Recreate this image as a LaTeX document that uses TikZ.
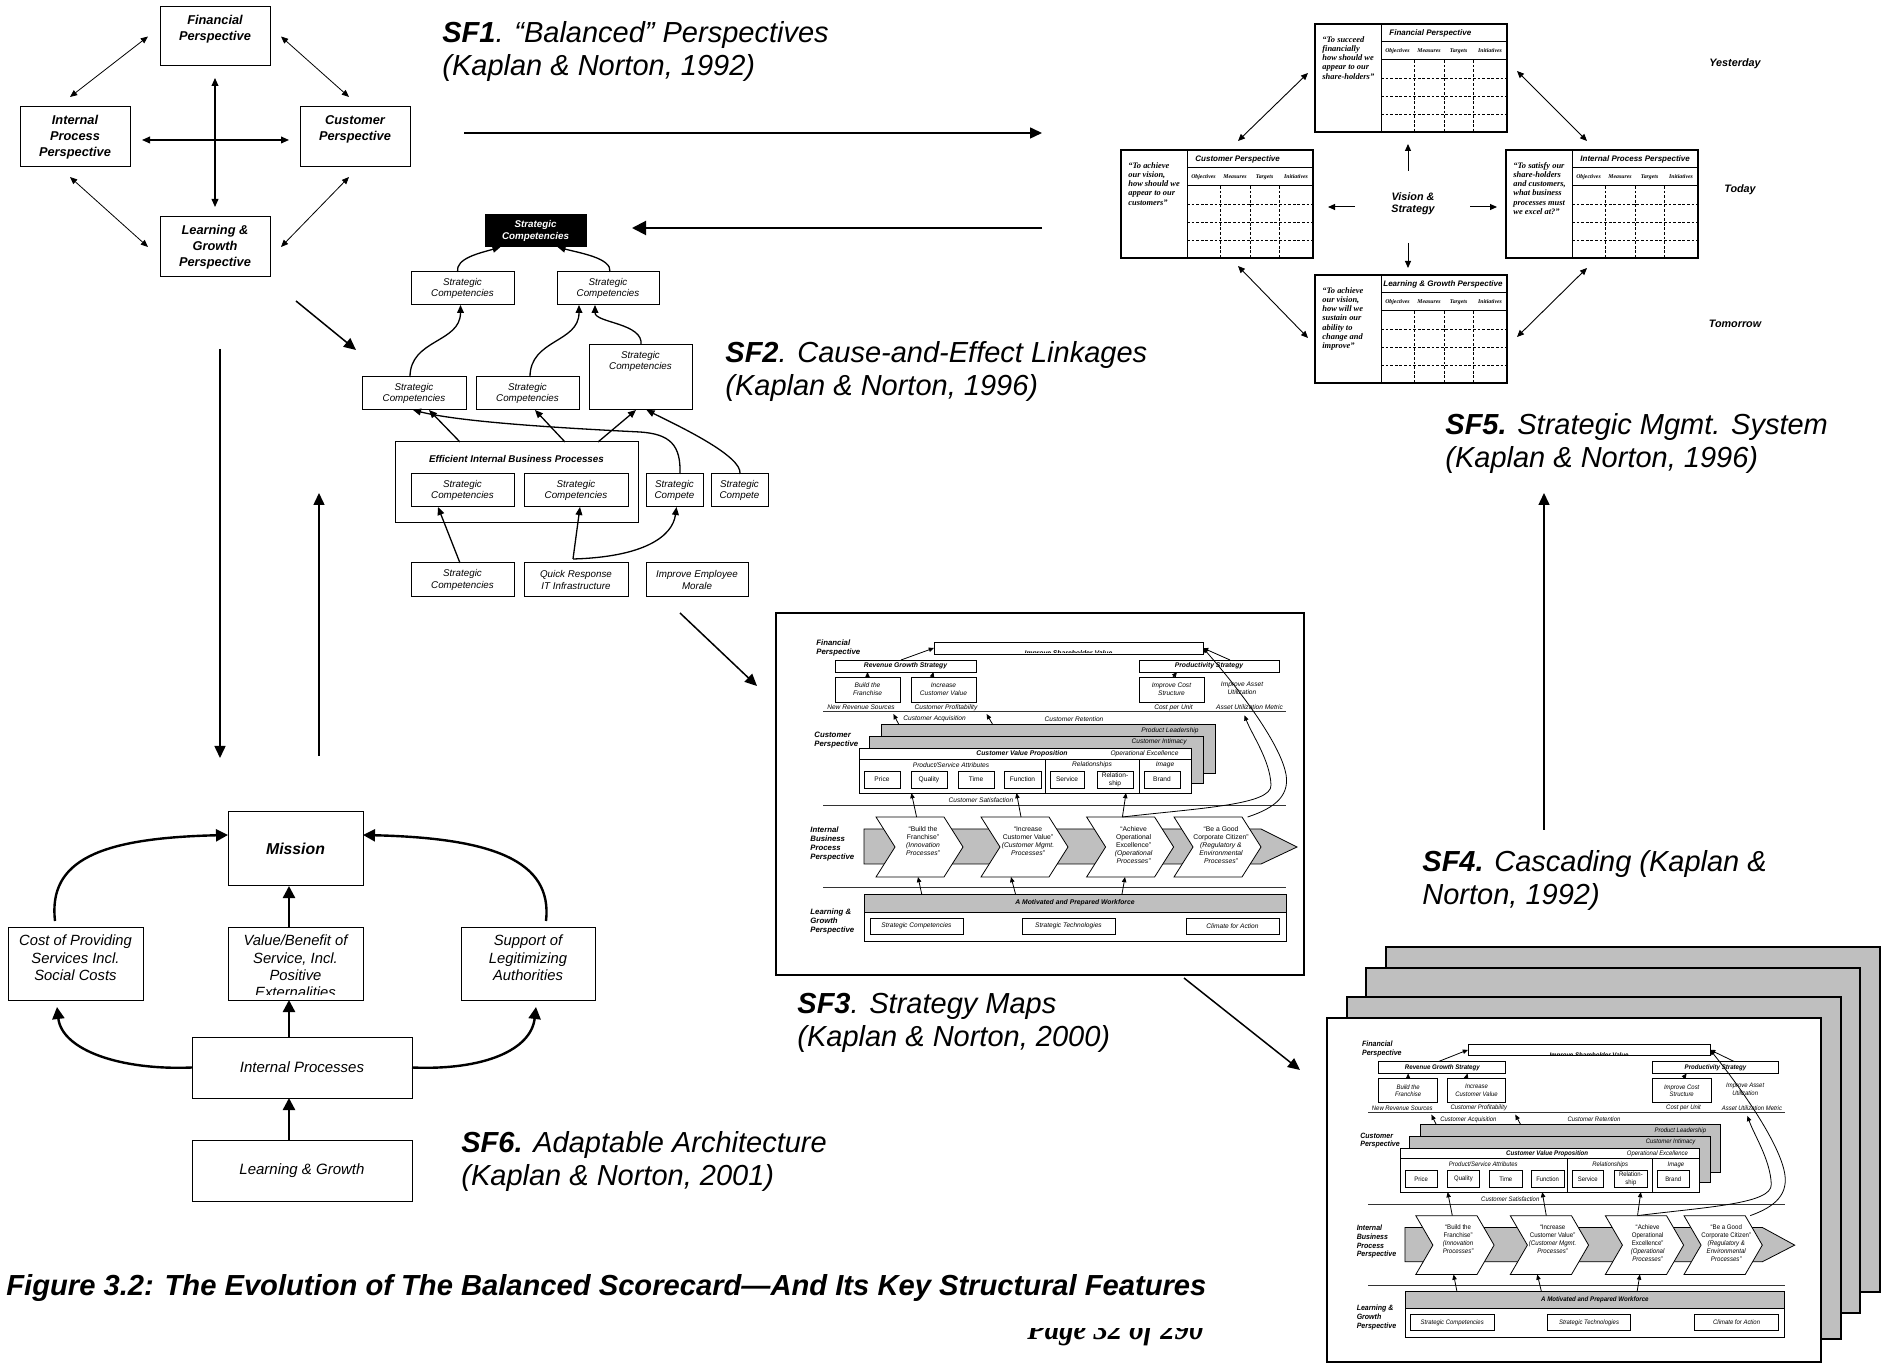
\documentclass[tikz,border=0pt]{standalone}
\usepackage{fontspec}
\usepackage{graphicx}
\setmainfont{Liberation Sans}
\newfontfamily\tms{Liberation Serif}
\usetikzlibrary{arrows.meta,calc}
\newcommand\fs[2]{\fontsize{#1}{#2}\selectfont}
\definecolor{gr}{gray}{0.75}
\newcommand{\mybox}[7][]{\node[bx,#1,minimum width={(#4-#2)*0.5pt},minimum height={(#5-#3)*0.5pt}] (#6) at ({(#2+#4)/2},{(#3+#5)/2}) {#7};}
\newcommand{\chev}[3]{%
\draw[chevs] (#1,817) -- ({#1+68},817) -- ({#1+87},847) -- ({#1+68},877) -- (#1,877) -- ({#1+19},847) -- cycle;
\node[chevt] (#2) at ({#1+47},826) {#3};}
\newcommand{\bsc}[6]{%
\node[draw,line width=0.7pt,fill=white,inner sep=0pt,outer sep=0pt,minimum width=96pt,minimum height=54pt] (#3) at ({#1+96},{#2+54}) {};
\draw[line width=0.5pt] ({#1+66},{#2}) -- ({#1+66},{#2+108}) ({#1+66},{#2+18}) -- ({#1+192},{#2+18}) ({#1+66},{#2+36}) -- ({#1+192},{#2+36});
\draw[dsh] ({#1+99},{#2+36}) -- ({#1+99},{#2+108}) ({#1+129},{#2+36}) -- ({#1+129},{#2+108}) ({#1+158},{#2+36}) -- ({#1+158},{#2+108}) ({#1+66},{#2+54}) -- ({#1+192},{#2+54}) ({#1+66},{#2+72}) -- ({#1+192},{#2+72}) ({#1+66},{#2+90}) -- ({#1+192},{#2+90});
\node[tt,anchor=west] (#3t) at ({#1+66+#5},{#2+9}) {#4};
\node[th] (#3h1) at ({#1+82.5},{#2+27}) {Objectives};
\node[th] (#3h2) at ({#1+114},{#2+27}) {Measures};
\node[th] (#3h3) at ({#1+143.5},{#2+27}) {Targets};
\node[th] (#3h4) at ({#1+175},{#2+27}) {Initiatives};
\node[tq,anchor=north west] (#3q) at ({#1+7},{#2+12}) {#6};}
\newcommand{\stratmap}[1]{%
\node[slbl,anchor=north west] (#1lf) at (816,639) {Financial\\Perspective};
\mybox[sb]{934}{642}{1203}{654}{#1isv}{}
\begin{scope}
\clip (934,642) rectangle (1203,653);
\node[sbf,anchor=base] (#1isvt) at (1068.5,656) {Improve Shareholder Value};
\end{scope}
\mybox[sb,sbf]{835}{660}{976}{672}{#1rgs}{Revenue Growth Strategy}
\mybox[sb,sbf]{1139}{660}{1279}{672}{#1ps}{Productivity Strategy}
\mybox[sb]{835}{677}{900}{702}{#1btf}{Build the\\Franchise}
\mybox[sb]{911}{677}{976}{702}{#1icv}{Increase\\Customer Value}
\mybox[sb]{1139}{677}{1204}{702}{#1ics}{Improve Cost\\Structure}
\node[st] (#1iau) at (1242,688) {Improve Asset\\Utilization};
\node[st] (#1nrs) at (861,707.5) {New Revenue Sources};
\node[st] (#1cpf) at (946,707.5) {Customer Profitability};
\node[st] (#1cpu) at (1173.5,707.5) {Cost per Unit};
\node[st] (#1aum) at (1249.5,707.5) {Asset Utilization Metric};
\draw[sln] (823,712) -- (1286,712);
\node[st] (#1cac) at (934.5,719) {Customer Acquisition};
\node[st] (#1cre) at (1074,719) {Customer Retention};
\mybox[gb]{881}{724}{1215}{773}{#1pl}{}
\node[st,anchor=east] (#1plt) at (1199,731) {Product Leadership};
\mybox[gb]{869}{736}{1203}{783}{#1ci}{}
\node[st,anchor=east] (#1cit) at (1187,742) {Customer Intimacy};
\mybox[sb]{859}{748}{1191}{793}{#1cvp}{}
\draw[line width=0.4pt] (859,759) -- (1191,759) (1045,759) -- (1045,793) (1139,759) -- (1139,793);
\node[sbf] (#1cvpt) at (1022,754) {Customer Value Proposition};
\node[st] (#1oe) at (1144.5,754) {Operational Excellence};
\node[st] (#1psa) at (951,765) {Product/Service Attributes};
\node[st] (#1rel) at (1092,765) {Relationships};
\node[st] (#1img) at (1165,765) {Image};
\mybox[sb,su]{864}{771}{900}{788}{#1pr}{Price}
\mybox[sb,su]{911}{771}{947}{788}{#1qu}{Quality}
\mybox[sb,su]{958}{771}{994}{788}{#1ti}{Time}
\mybox[sb,su]{1004}{771}{1041}{788}{#1fu}{Function}
\mybox[sb,su]{1050}{771}{1084}{788}{#1se}{Service}
\mybox[sb,su]{1097}{771}{1133}{788}{#1rs}{Relation-\\ship}
\mybox[sb,su]{1144}{771}{1180}{788}{#1br}{Brand}
\node[slbl,anchor=north west] (#1lc) at (814,732) {Customer\\Perspective};
\node[st] (#1csa) at (981,800) {Customer Satisfaction};
\draw[sln] (823,806) -- (1286,806);
\draw[gfl] (864,829) -- (1261,829) -- (1297,847) -- (1261,864) -- (864,864) -- cycle;
\chev{876}{#1ch1}{\upshape “Build the\\\upshape Franchise”\\\itshape (Innovation\\\itshape Processes”}
\chev{981}{#1ch2}{\upshape “Increase\\\upshape Customer Value”\\\itshape (Customer Mgmt.\\\itshape Processes”}
\chev{1086.6}{#1ch3}{\upshape “Achieve\\\upshape Operational\\\upshape Excellence”\\\itshape (Operational\\\itshape Processes”}
\chev{1174}{#1ch4}{\upshape “Be a Good\\\upshape Corporate Citizen”\\\itshape (Regulatory \&\\\itshape Environmental\\\itshape Processes”}
\node[slbl,anchor=north west] (#1li) at (810,826) {Internal\\Business\\Process\\Perspective};
\draw[sln] (823,888) -- (1286,888);
\mybox[sb]{864}{894}{1286}{941}{#1lg}{}
\draw[gfl] (864,894) rectangle (1286,912);
\node[sbf] (#1lgt) at (1075,903) {A Motivated and Prepared Workforce};
\mybox[sb]{870}{918}{963}{934}{#1sc}{Strategic Competencies}
\mybox[sb]{1022}{918}{1115}{934}{#1stc}{Strategic Technologies}
\mybox[sb]{1186}{918}{1279}{934}{#1cfa}{Climate for Action}
\node[slbl,anchor=north west] (#1ll) at (810,908) {Learning \&\\Growth\\Perspective};
\draw[sa] ($(#1rgs.north)+(-4.5,0)$) -- (#1isv.west);
\draw[sa] ($(#1ps.north)+(21,0)$) -- (#1isv.east);
\draw[sa] (#1btf.north) -- ($(#1rgs.south)+(-38,0)$);
\draw[sa] ($(#1icv.north)+(-11.5,0)$) -- ($(#1rgs.south)+(28,0)$);
\draw[sa] ($(#1ics.north)+(1.5,0)$) -- ($(#1ps.south)+(-32,0)$);
\draw[sa] ($(#1pl.north west)+(17.6,0)$) -- ($(#1pl.north west)+(12.4,-10)$);
\draw[sa] ($(#1pl.north west)+(111.4,0)$) -- ($(#1pl.north west)+(105.6,-10)$);
\coordinate (#1u1) at (916.6,817); \coordinate (#1u2) at (1021,817);
\coordinate (#1u3) at (1122.4,817); \coordinate (#1u4) at (1247.6,817);
\coordinate (#1d1) at (918,877); \coordinate (#1d2) at (1011,877); \coordinate (#1d3) at (1125,877);
\draw[sa] (#1u1) -- ($(#1cvp.south west)+(52.4,0)$);
\draw[sa] (#1u2) -- ($(#1cvp.south west)+(157.5,0)$);
\draw[sa] (#1u3) -- ($(#1cvp.south west)+(267,0)$);
\draw[sa] ($(#1lg.north west)+(57.7,0)$) -- (#1d1);
\draw[sa] ($(#1lg.north west)+(151.5,0)$) -- (#1d2);
\draw[sa] ($(#1lg.north west)+(258,0)$) -- (#1d3);
\draw[sa] (#1u4) .. controls (1275,808) and (1292,795) .. (1285,770) .. controls (1277,740) and (1240,690) .. (#1isv.east);
\draw[sa] (#1u3) .. controls (1200,808) and (1272,805) .. (1271,785) .. controls (1270,760) and (1252,735) .. ($(#1aum.south)+(-5,5)$);
}
\begin{document}
\begin{tikzpicture}[x=0.5pt,y=-0.5pt,
 bx/.style={draw,fill=white,inner sep=0pt,outer sep=0pt,line width=0.5pt,align=center},
 t1/.style={font=\fs{6.4}{7.9}\bfseries\itshape,align=center,inner sep=0pt},
 a1/.style={{Triangle[length=3.6pt,width=3pt]}-{Triangle[length=3.6pt,width=3pt]},line width=0.4pt},
 a1b/.style={{Triangle[length=4pt,width=3.4pt]}-{Triangle[length=4pt,width=3.4pt]},line width=0.65pt},
 s2/.style={font=\fs{4.9}{5.6}\itshape},
 s2t/.style={font=\fs{4.9}{5.6}\itshape,inner sep=0pt,align=center},
 s2b/.style={font=\fs{4.9}{5.6}\bfseries\itshape,inner sep=0pt,align=center},
 blk/.style={fill=black,text=white,font=\fs{4.9}{5.6}\bfseries\itshape},
 a2/.style={-{Triangle[length=4pt,width=3.4pt]},line width=0.65pt},
 ga/.style={-{Triangle[length=6pt,width=5.5pt]},line width=0.75pt},
 gab/.style={-{Triangle[length=7pt,width=7pt]},line width=1pt},
 sb/.style={line width=0.4pt,font=\fs{3.3}{3.9}\itshape},
 sbf/.style={font=\fs{3.4}{4}\bfseries\itshape,inner sep=0pt,align=center},
 st/.style={font=\fs{3.3}{3.9}\itshape,inner sep=0pt,align=center},
 su/.style={font=\fs{3.3}{3.9}\upshape},
 slbl/.style={font=\fs{3.9}{4.5}\bfseries\itshape,inner sep=0pt,align=left},
 gb/.style={fill=gr,line width=0.4pt},
 gfl/.style={fill=gr,draw,line width=0.4pt},
 sln/.style={line width=0.5pt,draw=black!80},
 chevs/.style={draw,fill=white,line width=0.4pt},
 chevt/.style={font=\fs{3.4}{4},inner sep=0pt,align=center,anchor=north},
 sa/.style={-{Triangle[length=2.6pt,width=2.2pt]},line width=0.4pt},
 s6/.style={font=\fs{7.4}{8.7}\itshape,inner sep=0pt,align=center},
 m6/.style={font=\fs{7.9}{9}\bfseries\itshape},
 i6/.style={font=\fs{7.5}{9}\itshape},
 a6/.style={-{Triangle[length=6pt,width=6pt]},line width=1.2pt},
 tt/.style={font=\fs{4}{4.5}\bfseries\itshape,inner sep=0pt},
 th/.style={font=\tms\fs{2.9}{3.4}\bfseries\itshape,inner sep=0pt},
 tq/.style={font=\tms\fs{4.2}{4.6}\bfseries\itshape,inner sep=0pt,align=left},
 vis/.style={font=\fs{5.4}{6}\bfseries\itshape,inner sep=0pt,align=center},
 a5/.style={-{Triangle[length=3.5pt,width=3pt]},line width=0.5pt},
 a5d/.style={{Triangle[length=3.5pt,width=3pt]}-{Triangle[length=3.5pt,width=3pt]},line width=0.45pt},
 dsh/.style={line width=0.4pt,dash pattern=on 1.4pt off 0.9pt},
 ttl/.style={font=\fs{14.5}{16.5}\itshape,inner sep=0pt,align=left,anchor=north west}]
\useasboundingbox (0,0) rectangle (1881,1363);
\fill[white] (0,0) rectangle (1881,1363);

% ---------- SF1 ----------
\mybox{160}{7}{270}{66}{fin1}{}
\node[t1,anchor=north] (fin1t) at ($(fin1.north)+(0,8)$) {Financial\\Perspective};
\mybox{20}{107}{130}{167}{ip1}{}
\node[t1,anchor=north] (ip1t) at ($(ip1.north)+(0,8)$) {Internal\\Process\\Perspective};
\mybox{300}{107}{410}{167}{cu1}{}
\node[t1,anchor=north] (cu1t) at ($(cu1.north)+(0,8)$) {Customer\\Perspective};
\mybox{160}{217}{270}{277}{lg1}{}
\node[t1,anchor=north] (lg1t) at ($(lg1.north)+(0,8)$) {Learning \&\\Growth\\Perspective};
\draw[a1] ($(fin1.west)+(-12,0)$) -- ($(ip1.north)+(-5,-10)$);
\draw[a1] ($(fin1.east)+(11,0)$) -- ($(cu1.north)+(-6,-10)$);
\draw[a1] ($(ip1.south)+(-5,10)$) -- ($(lg1.west)+(-12,0)$);
\draw[a1] ($(cu1.south)+(-6,10)$) -- ($(lg1.east)+(11,0)$);
\draw[a1b] ($(fin1.south)+(0,12)$) -- ($(lg1.north)+(0,-10)$);
\draw[a1b] ($(ip1.east)+(12,3)$) -- ($(cu1.west)+(-11,3)$);
\node[ttl] (sf1) at (442,21) {{\bfseries SF1}. “Balanced” Perspectives\\(Kaplan \& Norton, 1992)};

% ---------- SF2 ----------
\mybox[blk]{485}{215}{586}{247}{s2top}{Strategic\\Competencies}
\mybox[s2]{411}{272}{514}{305}{s2a}{Strategic\\Competencies}
\mybox[s2]{557}{272}{659}{305}{s2b}{Strategic\\Competencies}
\mybox[s2]{362}{377}{466}{410}{s2c}{Strategic\\Competencies}
\mybox[s2]{476}{377}{579}{410}{s2d}{Strategic\\Competencies}
\mybox[s2]{589}{345}{692}{410}{s2e}{}
\node[s2t,anchor=north] (s2et) at ($(s2e.north)+(0,6)$) {Strategic\\Competencies};
\mybox[s2]{395}{442}{638}{523}{s2p}{}
\node[s2b] (s2pt) at (516.5,459) {Efficient Internal Business Processes};
\mybox[s2]{411}{474}{514}{507}{s2f}{Strategic\\Competencies}
\mybox[s2]{524}{474}{628}{507}{s2g}{Strategic\\Competencies}
\mybox[s2]{646}{474}{703}{507}{s2h}{Strategic\\Compete}
\mybox[s2]{711}{474}{768}{507}{s2i}{Strategic\\Compete}
\mybox[s2]{411}{563}{514}{597}{s2j}{Strategic\\Competencies}
\mybox[s2]{524}{563}{628}{597}{s2k}{Quick Response\\IT Infrastructure}
\mybox[s2]{646}{563}{748}{597}{s2l}{Improve Employee\\Morale}
\draw[a2] ($(s2a.north)+(-5,0)$) .. controls +(-2,-14) and +(-20,6) .. ($(s2top.south)+(-35,0)$);
\draw[a2] ($(s2b.north)+(2,0)$) .. controls +(2,-14) and +(22,6) .. ($(s2top.south)+(22,0)$);
\draw[a2] ($(s2c.north)+(-4,0)$) .. controls +(0,-38) and +(0,38) .. ($(s2a.south)+(-2,0)$);
\draw[a2] ($(s2d.north)+(2.5,0)$) .. controls +(0,-38) and +(0,38) .. ($(s2b.south)+(-29,0)$);
\draw[a2] ($(s2e.north)+(0.5,0)$) .. controls +(3,-22) and +(0,18) .. ($(s2b.south)+(-13,0)$);
\draw[a2] ($(s2p.north)+(-56.5,0)$) -- ($(s2c.south)+(15,0)$);
\draw[a2] ($(s2p.north)+(48.5,0)$) -- ($(s2d.south)+(7.5,0)$);
\draw[a2] ($(s2p.north)+(81.5,0)$) -- ($(s2e.south)+(-4.5,0)$);
\draw[a2] ($(s2h.north)+(5.5,0)$) .. controls +(1,-29) and +(30,2) .. ($(s2h.north)+(-34.5,-42)$) .. controls +(-80,-4) and +(47,12) .. ($(s2c.south)+(-1,0)$);
\draw[a2] ($(s2i.north)+(0.5,0)$) .. controls +(3,-18) and +(30,15) .. ($(s2e.south)+(6,0)$);
\draw[a2] ($(s2j.north)+(-2.5,0)$) -- ($(s2f.south)+(-24.5,0)$);
\draw[a2] ($(s2k.north)+(-3,-4)$) -- ($(s2g.south)+(4,0)$);
\draw[a2] ($(s2k.north)+(-3,-4)$) .. controls +(70,-2) and +(-4,30) .. ($(s2h.south)+(2,0)$);
\node[ttl] (sf2) at (725,341) {{\bfseries SF2}. Cause-and-Effect Linkages\\(Kaplan \& Norton, 1996)};

% ---------- SF5 ----------
\bsc{1315}{24}{t5f}{Financial Perspective}{8}{“To succeed\\financially\\how should we\\appear to our\\share-holders”}
\bsc{1121}{150}{t5c}{Customer Perspective}{8}{“To achieve\\our vision,\\how should we\\appear to our\\customers”}
\bsc{1506}{150}{t5i}{Internal Process Perspective}{8}{“To satisfy our\\share-holders\\and customers,\\what business\\processes must\\we excel at?”}
\bsc{1315}{275}{t5l}{Learning \& Growth Perspective}{2}{“To achieve\\our vision,\\how will we\\sustain our\\ability to\\change and\\improve”}
\node[vis] (vis) at (1413,204) {Vision \&\\Strategy};
\draw[a5] ($(vis)+(-5,-33)$) -- ($(vis)+(-5,-60)$);
\draw[a5] ($(vis)+(-5,39)$) -- ($(vis)+(-5,64)$);
\draw[a5] ($(vis)+(-58,3)$) -- ($(vis)+(-85,3)$);
\draw[a5] ($(vis)+(57,3)$) -- ($(vis)+(84,3)$);
\draw[a5d] ($(t5f.west)+(-7,-5)$) -- ($(t5c.north)+(21,-9)$);
\draw[a5d] ($(t5f.east)+(10,-7)$) -- ($(t5i.north)+(-15,-9)$);
\draw[a5d] ($(t5c.south)+(21,8)$) -- ($(t5l.west)+(-7,9)$);
\draw[a5d] ($(t5i.south)+(-15,10)$) -- ($(t5l.east)+(10,8)$);
\node[vis] (yes) at (1735,64) {Yesterday};
\node[vis] (tod) at (1740,190) {Today};
\node[vis] (tom) at (1735,324) {Tomorrow};
\node[ttl] (sf5) at (1445,413) {{\bfseries SF5.} Strategic Mgmt. System\\(Kaplan \& Norton, 1996)};

% ---------- SF3 ----------
\mybox[line width=1pt]{776}{613}{1304}{975}{sf3box}{}
\stratmap{a}
\node[ttl] (sf3) at (797,993) {{\bfseries SF3}. Strategy Maps\\(Kaplan \& Norton, 2000)};

% ---------- SF4 ----------
\mybox[fill=gr,line width=1pt]{1386}{947}{1880}{1292}{sh4}{}
\mybox[fill=gr,line width=1pt]{1366}{968}{1860}{1313}{sh3}{}
\mybox[fill=gr,line width=1pt]{1347}{997}{1841}{1339}{sh2}{}
\mybox[line width=1pt]{1327}{1018}{1821}{1362}{sh1}{}
\begin{scope}[shift={(1467.8,1044)},xscale=0.9,yscale=0.981,shift={(-933.8,-642)},transform shape]
\stratmap{b}
\end{scope}
\node[ttl] (sf4) at (1422,850) {{\bfseries SF4.} Cascading (Kaplan \&\\Norton, 1992)};

% ---------- SF6 ----------
\mybox[m6]{228}{812}{363}{886}{mis}{Mission}
\mybox{8}{927}{143}{1000}{cost}{}
\node[s6,anchor=north] (costt) at (75.5,934.5) {Cost of Providing\\Services Incl.\\Social Costs};
\mybox{228}{927}{363}{1000}{val}{}
\begin{scope}
\clip (228,927) rectangle (363,994);
\node[s6,anchor=north] (valt) at (295.5,934.5) {Value/Benefit of\\Service, Incl.\\Positive\\Externalities};
\end{scope}
\mybox{461}{927}{595}{1000}{sup}{}
\node[s6,anchor=north] (supt) at (528,934.5) {Support of\\Legitimizing\\Authorities};
\mybox[i6]{192}{1037}{412}{1098}{ipr}{Internal Processes}
\mybox[i6]{192}{1140}{412}{1201}{lgr}{Learning \& Growth}
\draw[a6] ($(val.north)+(-6.5,0)$) -- ($(mis.south)+(-6.5,0)$);
\draw[a6] ($(ipr.north)+(-13,0)$) -- ($(val.south)+(-6.5,0)$);
\draw[a6] ($(lgr.north)+(-13,0)$) -- ($(ipr.south)+(-13,0)$);
\draw[a6] ($(cost.north)+(-20.5,-6)$) .. controls +(-7,-61) and +(-128,3) .. ($(mis.west)+(0,-14)$);
\draw[a6] ($(sup.north)+(18,-6)$) .. controls +(7,-61) and +(128,3) .. ($(mis.east)+(0,-14)$);
\draw[a6] (ipr.west) .. controls +(-72,3) and +(5,43) .. ($(cost.south)+(-18.5,7)$);
\draw[a6] (ipr.east) .. controls +(72,3) and +(-5,43) .. ($(sup.south)+(8,7)$);
\node[ttl] (sf6) at (461,1131) {{\bfseries SF6.} Adaptable Architecture\\(Kaplan \& Norton, 2001)};

% ---------- evolution arrows ----------
\coordinate (e1a) at (464,133); \coordinate (e1b) at (1042,133);
\draw[ga] (e1a) -- (e1b);
\coordinate (e2a) at (1042,228); \coordinate (e2b) at (632,228);
\draw[gab] (e2a) -- (e2b);
\coordinate (e3a) at (296,301); \coordinate (e3b) at (356,350);
\draw[ga] (e3a) -- (e3b);
\coordinate (e4a) at (220,349); \coordinate (e4b) at (220,758);
\draw[ga] (e4a) -- (e4b);
\coordinate (e5a) at (319,756); \coordinate (e5b) at (319,493);
\draw[ga] (e5a) -- (e5b);
\coordinate (e6a) at (680,613); \coordinate (e6b) at (757,686);
\draw[ga] (e6a) -- (e6b);
\coordinate (e7a) at (1184,978); \coordinate (e7b) at (1300,1070);
\draw[ga] (e7a) -- (e7b);
\coordinate (e8a) at (1544,830); \coordinate (e8b) at (1544,493);
\draw[ga] (e8a) -- (e8b);

% ---------- caption ----------
\node[anchor=west,inner sep=0pt] (cap) at (6,1288) {\resizebox{600pt}{\height}{\fs{14.5}{16}\bfseries\itshape Figure 3.2: The Evolution of The Balanced Scorecard—And Its Key Structural Features}};
\begin{scope}
\clip (1000,1328) rectangle (1240,1363);
\node[anchor=base west,inner sep=0pt] (pg) at (1027,1339) {\resizebox{88pt}{\height}{\tms\fs{15}{16}\bfseries\itshape Page 32 of 290}};
\end{scope}
\end{tikzpicture}
\end{document}
